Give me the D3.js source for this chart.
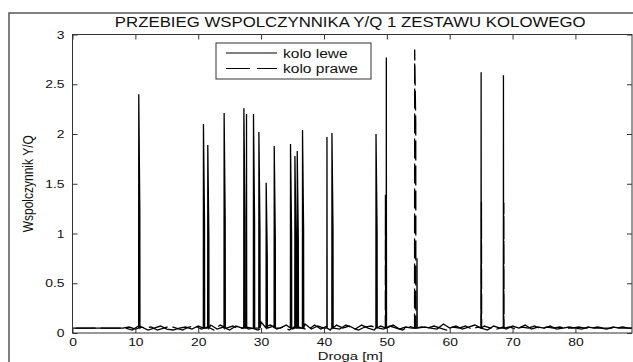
<!DOCTYPE html>
<html>
<head>
<meta charset="utf-8">
<script src="https://cdn.jsdelivr.net/npm/d3@7"></script>
<style>
  html, body { margin: 0; padding: 0; background: #fff; }
  svg { display: block; }
  text { font-family: "Liberation Sans", Arial, sans-serif; fill: #111; }
</style>
</head>
<body>
<svg id="chart" width="633" height="362"></svg>
<script>
// Wheel-set Y/Q coefficient along the track, left and right wheel.

// Background samples, 1 m apart
const leweStart = 0;
const leweBase = [
  0.05, 0.05, 0.05, 0.05, 0.05, 0.05, 0.05, 0.05, 0.05,
  0.06, 0.04, 0.06, 0.03, 0.05, 0.07, 0.04, 0.03, 0.05, 0.06,
  0.04, 0.07, 0.05, 0.08, 0.04, 0.06, 0.03, 0.07, 0.05, 0.04,
  0.08, 0.11, 0.03, 0.07, 0.05, 0.08, 0.04, 0.06, 0.09, 0.04,
  0.07, 0.05, 0.03, 0.08, 0.05, 0.07, 0.04, 0.08, 0.05, 0.03,
  0.07, 0.05, 0.08, 0.04, 0.06, 0.05, 0.03, 0.06, 0.05, 0.04,
  0.09, 0.05, 0.07, 0.04, 0.06, 0.08, 0.05, 0.03, 0.07, 0.05,
  0.04, 0.07, 0.05, 0.08, 0.04, 0.06, 0.05, 0.07, 0.04, 0.05,
  0.06, 0.05, 0.04, 0.06, 0.05, 0.05, 0.04, 0.06, 0.05, 0.05, 0.05
];
const praweStart = 0.5;
const praweBase = [
  0.05, 0.05, 0.05, 0.05, 0.05, 0.05, 0.05, 0.05, 0.05,
  0.03, 0.07, 0.05, 0.06, 0.03, 0.05, 0.07, 0.05, 0.03, 0.06,
  0.07, 0.04, 0.06, 0.03, 0.08, 0.05, 0.07, 0.04, 0.06, 0.05,
  0.03, 0.06, 0.08, 0.04, 0.06, 0.03, 0.07, 0.05, 0.03, 0.08,
  0.04, 0.07, 0.05, 0.04, 0.08, 0.05, 0.03, 0.06, 0.07, 0.05,
  0.04, 0.07, 0.05, 0.03, 0.07, 0.04, 0.06, 0.05, 0.07, 0.05,
  0.03, 0.06, 0.05, 0.07, 0.04, 0.06, 0.07, 0.05, 0.04, 0.06,
  0.06, 0.04, 0.06, 0.05, 0.07, 0.04, 0.06, 0.05, 0.06, 0.05,
  0.05, 0.06, 0.05, 0.05, 0.06, 0.05, 0.05, 0.05, 0.06, 0.05, 0.05
];

// Peaks: position [m], peak value, following sample (null when none)
const leweSpikeX    = [10.54, 20.83, 21.52, 24.12, 27.26, 27.68, 28.79, 29.65, 30.81, 32.09, 34.68, 35.38, 35.75, 36.59, 40.48, 41.27, 48.28, 49.92, 54.80, 65.00, 68.55];
const leweSpikePeak = [2.40, 2.10, 1.89, 2.21, 2.26, 2.20, 2.20, 2.02, 1.51, 1.88, 1.90, 1.78, 1.83, 2.04, 1.97, 2.01, 2.00, 2.77, 0.75, 2.62, 2.59];
const leweSpikeHalf = [1.22, 1.10, 0.97, 1.13, 1.15, null, 1.13, 1.03, 0.76, 0.95, 0.99, 0.92, 0.94, 1.04, null, 1.03, 1.03, null, null, null, null];

const praweSpikeX    = [49.78, 54.43, 65.05, 68.60];
const praweSpikePeak = [1.39, 2.85, 1.32, 1.31];
const praweSpikeHalf = [null, 2.10, null, null];
const spikeFoot = 0.05;

const xTicks = [0, 10, 20, 30, 40, 50, 60, 70, 80];
const yTicks = [0, 0.5, 1, 1.5, 2, 2.5, 3];
const yTickLabels = ["0", "0.5", "1", "1.5", "2", "2.5", "3"];
const seriesNames = ["kolo lewe", "kolo prawe"];

const titleText = "PRZEBIEG WSPOLCZYNNIKA Y/Q 1 ZESTAWU KOLOWEGO";
const xLabel = "Droga [m]";
const yLabel = "Wspolczynnik Y/Q";

// ---- geometry ----
const plot = { left: 72.5, right: 632, top: 34.5, bottom: 333 };
const dash = "20,5";
const stretch = 1.15;

const svg = d3.select("#chart");

const x = d3.scaleLinear().domain([0, 89]).range([plot.left, plot.right]);
const y = d3.scaleLinear().domain([0, 3]).range([plot.bottom, plot.top]);

// merge background samples with the peaks into one ordered polyline
function buildSeries(start, base, sx, sp, sh) {
  const pts = [];
  const windows = sx.map(s => [s - 0.05, s + 0.25]);
  base.forEach((v, i) => {
    const xv = start + i;
    if (!windows.some(w => xv >= w[0] && xv <= w[1])) pts.push([xv, v]);
  });
  sx.forEach((s, i) => {
    pts.push([s - 0.02, spikeFoot]);
    pts.push([s, sp[i]]);
    if (sh[i] != null) {
      pts.push([s + 0.17, sh[i]]);
      pts.push([s + 0.19, spikeFoot]);
    } else {
      pts.push([s + 0.03, spikeFoot]);
    }
  });
  pts.sort((a, b) => a[0] - b[0]);
  return pts;
}

const lewe = buildSeries(leweStart, leweBase, leweSpikeX, leweSpikePeak, leweSpikeHalf);
const prawe = buildSeries(praweStart, praweBase, praweSpikeX, praweSpikePeak, praweSpikeHalf);

// outer figure frame
svg.append("path")
  .attr("d", "M9,362V13H633")
  .attr("fill", "none").attr("stroke", "#555").attr("stroke-width", 1.5);

// title
svg.append("text")
  .attr("transform", `translate(${(plot.left + plot.right) / 2 - 2},27) scale(1.2,1)`)
  .attr("text-anchor", "middle")
  .style("font-size", "14px")
  .text(titleText);

// clip for data
svg.append("defs").append("clipPath").attr("id", "clip")
  .append("rect")
  .attr("x", plot.left).attr("y", plot.top)
  .attr("width", plot.right - plot.left).attr("height", plot.bottom - plot.top);

const line = d3.line().x(d => x(d[0])).y(d => y(d[1]));

const g = svg.append("g").attr("clip-path", "url(#clip)");
g.append("path").datum(lewe)
  .attr("d", line).attr("fill", "none")
  .attr("stroke", "#000").attr("stroke-width", 1.3);
g.append("path").datum(prawe)
  .attr("d", line).attr("fill", "none")
  .attr("stroke", "#000").attr("stroke-width", 1.3)
  .attr("stroke-dasharray", dash);

// axes, ticks pointing inward on all four sides
function styleAxis(sel) {
  sel.select(".domain").remove();
  sel.selectAll(".tick line").attr("stroke", "#333");
  sel.selectAll("text").style("font-size", "11px").attr("fill", "#111");
}

const xAxis = svg.append("g").attr("transform", `translate(0,${plot.bottom})`)
  .call(d3.axisBottom(x).tickValues(xTicks).tickSize(-5).tickPadding(5.5).tickFormat(d3.format("d")));
styleAxis(xAxis);
xAxis.selectAll("text").attr("transform", `scale(${stretch * 1.1},1)`);

const xTop = svg.append("g").attr("transform", `translate(0,${plot.top})`)
  .call(d3.axisTop(x).tickValues(xTicks).tickSize(-5).tickFormat(""));
styleAxis(xTop);

const yAxis = svg.append("g").attr("transform", `translate(${plot.left},0)`)
  .call(d3.axisLeft(y).tickValues(yTicks).tickSize(-5).tickPadding(0)
    .tickFormat((d, i) => yTickLabels[i]));
styleAxis(yAxis);
yAxis.selectAll("text").attr("x", null)
  .attr("transform", `translate(-8,0) scale(${stretch * 1.1},1)`);

const yRight = svg.append("g").attr("transform", `translate(${plot.right},0)`)
  .call(d3.axisRight(y).tickValues(yTicks).tickSize(-5).tickFormat(""));
styleAxis(yRight);

// plot box
svg.append("rect")
  .attr("x", plot.left).attr("y", plot.top)
  .attr("width", plot.right - plot.left).attr("height", plot.bottom - plot.top)
  .attr("fill", "none").attr("stroke", "#333").attr("stroke-width", 1);

// axis titles
svg.append("text")
  .attr("transform", `translate(${(plot.left + plot.right) / 2 - 2},359.6) scale(1.35,1)`)
  .attr("text-anchor", "middle")
  .style("font-size", "11px")
  .text(xLabel);

svg.append("text")
  .attr("transform", `translate(33,${(plot.top + plot.bottom) / 2}) rotate(-90) scale(1,${stretch})`)
  .attr("text-anchor", "middle")
  .style("font-size", "12px")
  .text(yLabel);

// legend
const lg = svg.append("g").attr("transform", "translate(216,43)");
lg.append("rect").attr("width", 155).attr("height", 36)
  .attr("fill", "#fff").attr("stroke", "#333").attr("stroke-width", 1);
seriesNames.forEach((name, i) => {
  const yy = 10 + i * 15.5;
  lg.append("line").attr("x1", 10).attr("x2", 61).attr("y1", yy).attr("y2", yy)
    .attr("stroke", "#000").attr("stroke-width", 1.2)
    .attr("stroke-dasharray", i === 1 ? "24,7" : null);
  lg.append("text")
    .attr("transform", `translate(67,${yy + 4.5}) scale(${stretch},1)`)
    .style("font-size", "13.5px")
    .text(name);
});
</script>
</body>
</html>
